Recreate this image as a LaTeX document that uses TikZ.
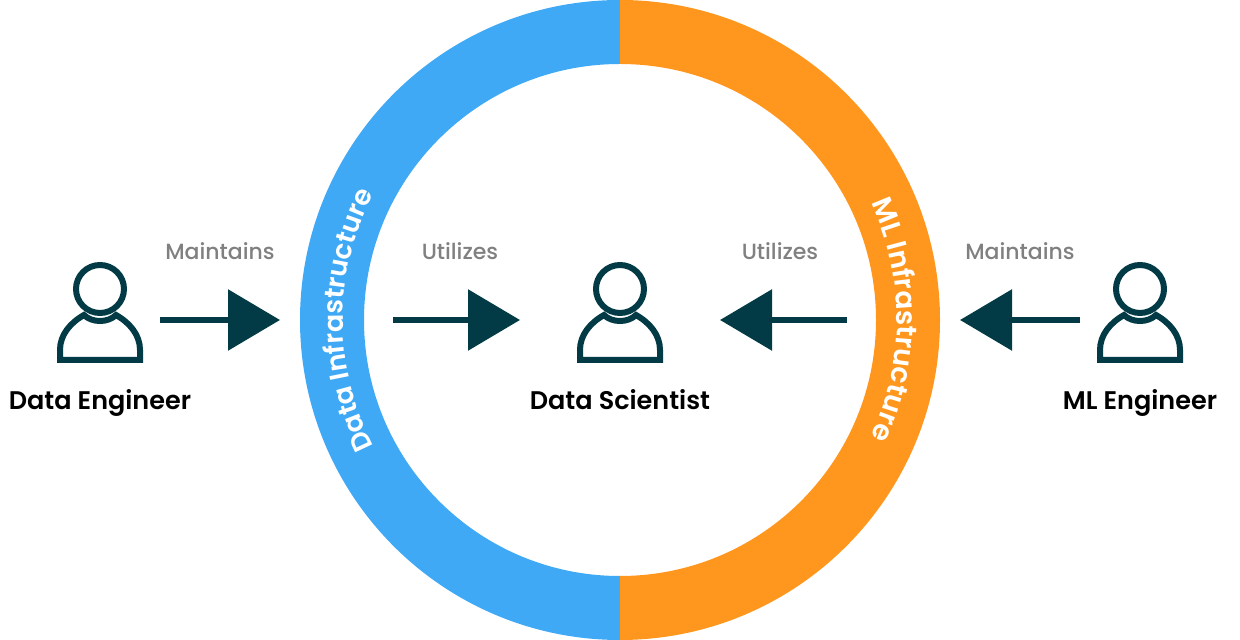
\documentclass[tikz,border=0pt]{standalone}
\usepackage{fontspec}
\setmainfont{Poppins}[UprightFont={* Medium},BoldFont={* SemiBold}]
\usetikzlibrary{arrows.meta,decorations.text}

\begin{document}
\begin{tikzpicture}
		[x=1pt,y=1pt,line cap=butt,
		%Styles
		person/.pic={
			\draw[icon line] (0,31) circle[radius=24];
			\draw[icon line,line join=miter] (-40,-40) -- (-40,-30) .. controls (-40,-15) and (-30,-3) .. (-16,5)
				.. controls (-8,-3) and (8,-3) .. (16,5)
				.. controls (30,-3) and (40,-15) .. (40,-30) -- (40,-40) -- cycle;
		},
		icon line/.style={draw=darkteal,line width=6pt},
		flow arrow/.style={draw=darkteal,line width=6pt,-{Triangle[length=52pt,width=60pt,fill=darkteal]}},
		role text/.style={font=\fontsize{25.5}{30}\selectfont\bfseries,text=black,inner sep=0pt,anchor=base},
		verb text/.style={font=\fontsize{22}{26}\selectfont,text=labelgray,inner sep=0pt,anchor=base}
		]
		
		%Colors
		\definecolor{darkteal}{HTML}{023A45}
		\definecolor{labelgray}{HTML}{808080}
		\definecolor{dataring}{HTML}{40A9F5}
		\definecolor{mlring}{HTML}{FF971F}
		
		%The graphic
		\useasboundingbox (0,0) rectangle (1240,640);
		
		\fill[dataring] (620,640) arc[start angle=90,end angle=270,radius=320] -- (620,64)
			arc[start angle=270,end angle=90,radius=256] -- cycle;
		\fill[mlring] (620,640) arc[start angle=90,end angle=-90,radius=320] -- (620,64)
			arc[start angle=-90,end angle=90,radius=256] -- cycle;
		
		\path[decorate,decoration={text along path,text align=center,text color=white,
			text={|\fontsize{27}{32}\selectfont\bfseries|Data Infrastructure}}]
			(620,320)+(212:277) arc[start angle=212,end angle=148,radius=277];
		\path[decorate,decoration={text along path,text align=center,text color=white,
			text={|\fontsize{28}{33}\selectfont\bfseries|ML Infrastructure}}]
			(620,320)+(32:277) arc[start angle=32,end angle=-32,radius=277];
		
		\pic (engineerA) at (100,320) {person};
		\pic (scientist) at (620,320) {person};
		\pic (engineerB) at (1140,320) {person};
		
		\node[role text] (dataeng) at (100,230) {Data Engineer};
		\node[role text] (datasci) at (620,230) {Data Scientist};
		\node[role text] (mleng) at (1140,230) {ML Engineer};
		
		\node[verb text] (maintainA) at (220,380) {Maintains};
		\node[verb text] (utilizeA) at (460,380) {Utilizes};
		\node[verb text] (utilizeB) at (780,380) {Utilizes};
		\node[verb text] (maintainB) at (1020,380) {Maintains};
		
		\coordinate (a1) at (160,320);
		\coordinate (a2) at (280,320);
		\coordinate (b1) at (393,320);
		\coordinate (b2) at (520,320);
		\coordinate (c1) at (847,320);
		\coordinate (c2) at (720,320);
		\coordinate (d1) at (1080,320);
		\coordinate (d2) at (960,320);
		
		\draw[flow arrow] (a1) -- (a2);
		\draw[flow arrow] (b1) -- (b2);
		\draw[flow arrow] (c1) -- (c2);
		\draw[flow arrow] (d1) -- (d2);
	\end{tikzpicture}
\end{document}
